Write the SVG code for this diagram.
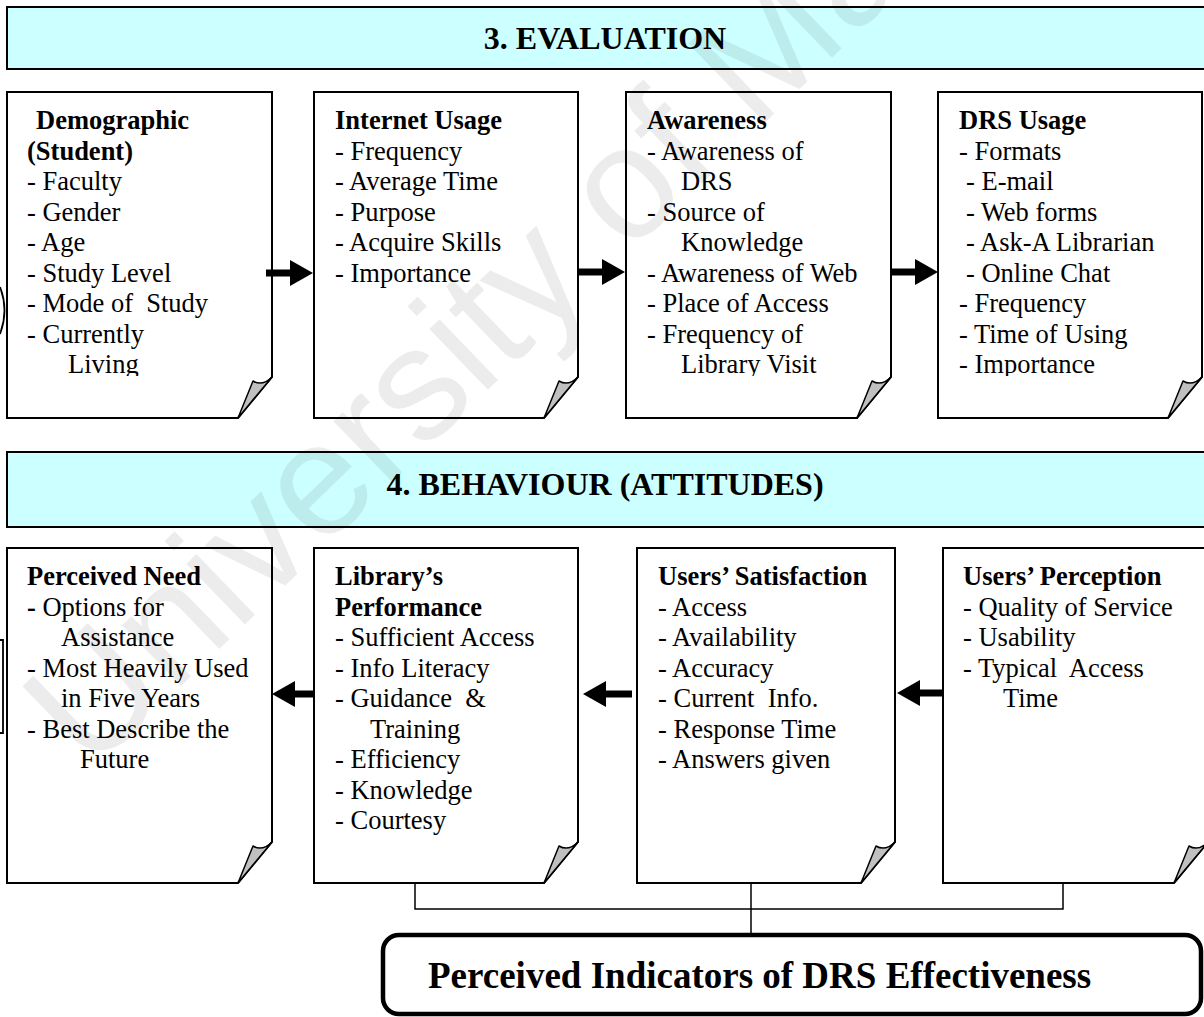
<svg xmlns="http://www.w3.org/2000/svg" width="1204" height="1017" viewBox="0 0 1204 1017">
  <style>
    .t { font-family: "Liberation Serif", "Times New Roman", serif; font-size: 26.5px; fill: #000; }
    .b { font-weight: bold; }
    .h { font-family: "Liberation Serif", "Times New Roman", serif; font-size: 32px; font-weight: bold; text-anchor: middle; fill: #000; }
    .big { font-family: "Liberation Serif", "Times New Roman", serif; font-size: 37px; font-weight: bold; fill: #000; }
    .page { fill: #fff; stroke: #000; stroke-width: 2; stroke-linejoin: miter; }
    .flap { fill: #c0c0c0; stroke: #000; stroke-width: 1.5; stroke-linejoin: round; }
    .banner { fill: #ccffff; stroke: #000; stroke-width: 2; }
    .arrow { stroke: #000; stroke-width: 7; fill: none; marker-end: url(#ah); }
    .link { stroke: #000; stroke-width: 1.5; fill: none; }
    .edge { stroke: #000; stroke-width: 1.8; fill: none; }
    .wm { font-family: "Liberation Sans", Arial, sans-serif; font-size: 160px; fill: #000; fill-opacity: 0.075; }
  </style>
  <defs>
    <marker id="ah" markerUnits="userSpaceOnUse" markerWidth="24" markerHeight="26" refX="2" refY="13" orient="auto">
      <path d="M0,0L23,13L0,26Z" fill="#000"/>
    </marker>
    <clipPath id="row1clip">
      <rect x="0" y="80" width="1204" height="296"/>
    </clipPath>
  </defs>

  <rect width="1204" height="1017" fill="#fff"/>

  <!-- shapes reaching in from outside the page edges -->
  <g id="edge-shapes">
    <path class="edge" d="M0,287Q9,310 0,334"/>
    <path class="edge" d="M0,640H3V733H0"/>
    <path class="edge" d="M1204,661Q1194,685 1204,709"/>
  </g>

  <!-- section banners -->
  <g id="banner-evaluation">
    <rect class="banner" x="7" y="7" width="1210" height="62"/>
    <text class="h" x="605" y="49">3. EVALUATION</text>
  </g>
  <g id="banner-behaviour">
    <rect class="banner" x="7" y="452" width="1210" height="75"/>
    <text class="h" x="605" y="495">4. BEHAVIOUR (ATTITUDES)</text>
  </g>

  <!-- row 1: evaluation -->
  <g id="node-demographic">
    <path class="page" d="M7,92H272V377L238,418H7Z"/>
    <path class="flap" d="M238,418l15,-37c5,3 11,4 19,-4z"/>
    <g class="t" clip-path="url(#row1clip)">
      <text class="b" x="36" y="129">Demographic</text>
      <text class="b" x="27" y="159.5">(Student)</text>
      <text x="27" y="190">- Faculty</text>
      <text x="27" y="220.5">- Gender</text>
      <text x="27" y="251">- Age</text>
      <text x="27" y="281.5">- Study Level</text>
      <text x="27" y="312" xml:space="preserve">- Mode of  Study</text>
      <text x="27" y="342.5">- Currently</text>
      <text x="68" y="373">Living</text>
    </g>
  </g>

  <g id="node-internet-usage">
    <path class="page" d="M314,92H578V377L544,418H314Z"/>
    <path class="flap" d="M544,418l15,-37c5,3 11,4 19,-4z"/>
    <g class="t" clip-path="url(#row1clip)">
      <text class="b" x="335" y="129">Internet Usage</text>
      <text x="335" y="159.5">- Frequency</text>
      <text x="335" y="190">- Average Time</text>
      <text x="335" y="220.5">- Purpose</text>
      <text x="335" y="251">- Acquire Skills</text>
      <text x="335" y="281.5">- Importance</text>
    </g>
  </g>

  <g id="node-awareness">
    <path class="page" d="M626,92H891V377L857,418H626Z"/>
    <path class="flap" d="M857,418l15,-37c5,3 11,4 19,-4z"/>
    <g class="t" clip-path="url(#row1clip)">
      <text class="b" x="647" y="129">Awareness</text>
      <text x="647" y="159.5">- Awareness of</text>
      <text x="681" y="190">DRS</text>
      <text x="647" y="220.5">- Source of</text>
      <text x="681" y="251">Knowledge</text>
      <text x="647" y="281.5">- Awareness of Web</text>
      <text x="647" y="312">- Place of Access</text>
      <text x="647" y="342.5">- Frequency of</text>
      <text x="681" y="373">Library Visit</text>
    </g>
  </g>

  <g id="node-drs-usage">
    <path class="page" d="M938,92H1202V377L1168,418H938Z"/>
    <path class="flap" d="M1168,418l15,-37c5,3 11,4 19,-4z"/>
    <g class="t" clip-path="url(#row1clip)">
      <text class="b" x="959" y="129">DRS Usage</text>
      <text x="959" y="159.5">- Formats</text>
      <text x="966" y="190">- E-mail</text>
      <text x="966" y="220.5">- Web forms</text>
      <text x="966" y="251">- Ask-A Librarian</text>
      <text x="966" y="281.5">- Online Chat</text>
      <text x="959" y="312">- Frequency</text>
      <text x="959" y="342.5">- Time of Using</text>
      <text x="959" y="373">- Importance</text>
    </g>
  </g>

  <!-- row 2: behaviour -->
  <g id="node-perceived-need">
    <path class="page" d="M7,548H272V842L238,883H7Z"/>
    <path class="flap" d="M238,883l15,-37c5,3 11,4 19,-4z"/>
    <g class="t">
      <text class="b" x="27" y="585">Perceived Need</text>
      <text x="27" y="615.5"><tspan font-weight="bold">-</tspan> Options for</text>
      <text x="61" y="646">Assistance</text>
      <text x="27" y="676.5">- Most Heavily Used</text>
      <text x="61" y="707">in Five Years</text>
      <text x="27" y="737.5">- Best Describe the</text>
      <text x="80" y="768">Future</text>
    </g>
  </g>

  <g id="node-library-performance">
    <path class="page" d="M314,548H578V842L544,883H314Z"/>
    <path class="flap" d="M544,883l15,-37c5,3 11,4 19,-4z"/>
    <g class="t">
      <text class="b" x="335" y="585">Library’s</text>
      <text class="b" x="335" y="615.5">Performance</text>
      <text x="335" y="646">- Sufficient Access</text>
      <text x="335" y="676.5">- Info Literacy</text>
      <text x="335" y="707" xml:space="preserve">- Guidance  &amp;</text>
      <text x="370" y="737.5">Training</text>
      <text x="335" y="768">- Efficiency</text>
      <text x="335" y="798.5">- Knowledge</text>
      <text x="335" y="829">- Courtesy</text>
    </g>
  </g>

  <g id="node-users-satisfaction">
    <path class="page" d="M637,548H895V842L861,883H637Z"/>
    <path class="flap" d="M861,883l15,-37c5,3 11,4 19,-4z"/>
    <g class="t">
      <text class="b" x="658" y="585">Users’ Satisfaction</text>
      <text x="658" y="615.5">- Access</text>
      <text x="658" y="646">- Availability</text>
      <text x="658" y="676.5">- Accuracy</text>
      <text x="658" y="707" xml:space="preserve">- Current  Info.</text>
      <text x="658" y="737.5">- Response Time</text>
      <text x="658" y="768">- Answers given</text>
    </g>
  </g>

  <g id="node-users-perception">
    <path class="page" d="M943,548H1208V842L1174,883H943Z"/>
    <path class="flap" d="M1174,883l15,-37c5,3 11,4 19,-4z"/>
    <g class="t">
      <text class="b" x="963" y="585">Users’ Perception</text>
      <text x="963" y="615.5">- Quality of Service</text>
      <text x="963" y="646">- Usability</text>
      <text x="963" y="676.5" xml:space="preserve">- Typical  Access</text>
      <text x="1003" y="707">Time</text>
    </g>
  </g>

  <!-- outcome -->
  <g id="node-indicators">
    <rect x="383" y="935" width="818" height="79" rx="16" ry="16" fill="#fff" stroke="#000" stroke-width="4.5"/>
    <text class="big" x="428" y="988">Perceived Indicators of DRS Effectiveness</text>
  </g>

  <!-- connectors -->
  <g id="connectors">
    <line class="arrow" x1="266" y1="273" x2="292" y2="273"/>
    <line class="arrow" x1="578" y1="272" x2="604" y2="272"/>
    <line class="arrow" x1="891" y1="272" x2="917" y2="272"/>
    <line class="arrow" x1="314" y1="694" x2="293" y2="694"/>
    <line class="arrow" x1="632" y1="694" x2="604" y2="694"/>
    <line class="arrow" x1="943" y1="693" x2="918" y2="693"/>
    <path class="link" d="M415,883V909H1063V883"/>
    <path class="link" d="M751,883V935"/>
  </g>

  <!-- repository watermark -->
  <text class="wm" x="90" y="774" transform="rotate(-44 90 774)">University of Malaya</text>
</svg>
